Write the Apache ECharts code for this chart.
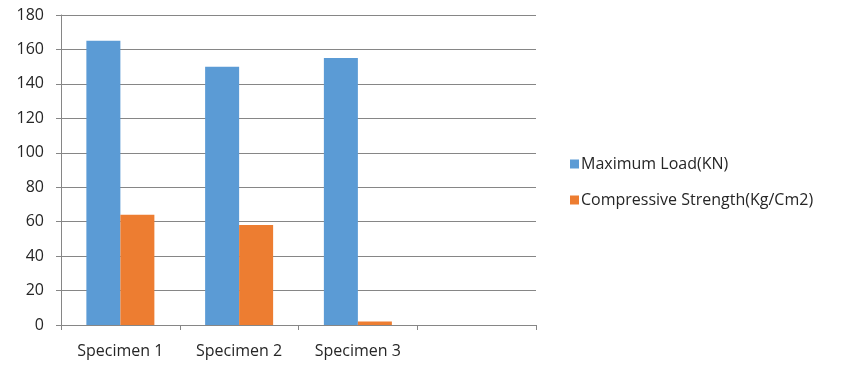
<!DOCTYPE html>
<html>
<head>
<meta charset="utf-8">
<script src="https://cdn.jsdelivr.net/npm/echarts@6/dist/echarts.min.js"></script>
<style>
  html, body { margin: 0; padding: 0; background: #fff; }
  #chart { width: 859px; height: 377px; }
</style>
</head>
<body>
<div id="chart"></div>
<script>
const categories = ["Specimen 1", "Specimen 2", "Specimen 3", ""];
const maxLoad = [165, 150, 155, null];
const compStrength = [64, 58, 2, null];
const seriesNames = ["Maximum Load(KN)", "Compressive Strength(Kg/Cm2)"];

const font = "Open Sans, Lato, sans-serif";

const chart = echarts.init(document.getElementById("chart"));
chart.setOption({
  animation: false,
  textStyle: { fontFamily: font },
  grid: { left: 61, right: 323, top: 15, bottom: 52 },
  legend: {
    orient: "vertical",
    left: 565,
    top: 151,
    itemWidth: 9,
    itemHeight: 9,
    itemGap: 20,
    icon: "rect",
    textStyle: { fontSize: 16, color: "#262626", fontFamily: font, padding: [0, 0, 0, -3] },
    data: seriesNames
  },
  xAxis: {
    type: "category",
    data: categories,
    axisLine: { lineStyle: { color: "#868686" } },
    axisTick: { show: true, length: 5, lineStyle: { color: "#868686" } },
    axisLabel: { fontSize: 16, color: "#262626", margin: 18 }
  },
  yAxis: {
    type: "value",
    min: 0,
    max: 180,
    interval: 20,
    axisLine: { show: true, lineStyle: { color: "#868686" } },
    axisTick: { show: true, length: 5, lineStyle: { color: "#868686" } },
    splitLine: { lineStyle: { color: "#868686" } },
    axisLabel: { fontSize: 16, color: "#262626", margin: 17 }
  },
  series: [
    {
      name: seriesNames[0],
      type: "bar",
      data: maxLoad,
      barWidth: 34,
      barGap: "0%",
      itemStyle: { color: "#5B9BD5" }
    },
    {
      name: seriesNames[1],
      type: "bar",
      data: compStrength,
      barWidth: 34,
      barGap: "0%",
      itemStyle: { color: "#ED7D31" }
    }
  ]
});
</script>
</body>
</html>
